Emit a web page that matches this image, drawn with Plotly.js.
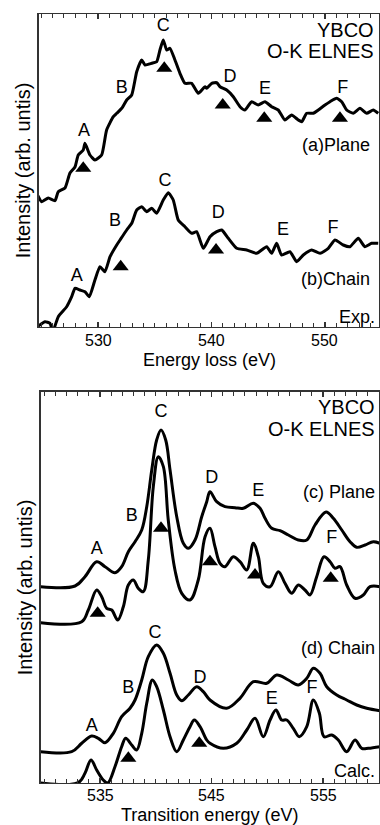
<!DOCTYPE html>
<html>
<head>
<meta charset="utf-8">
<script src="https://cdn.plot.ly/plotly-3.0.1.min.js"></script>
<style>html,body{margin:0;padding:0;background:#fff;}#chart{width:380px;height:825px;}</style>
</head>
<body>
<div id="chart"></div>
<script>
// ---------- Experimental spectra (top panel) ----------
const expEnergyPlane = [524.7,525.04,525.62,526.21,526.5,527.09,527.53,527.97,528.26,528.7,528.85,529.29,529.73,530.32,530.76,531.35,531.65,532.09,532.53,532.97,533.41,533.85,534.14,534.73,535.17,535.46,535.75,536.05,536.34,536.78,537.22,537.66,538.25,538.84,539.43,539.58,540.02,540.46,540.75,541.34,541.92,542.51,542.95,543.54,544.12,544.71,545.3,545.88,546.47,547.06,547.65,547.95,548.39,548.97,549.41,550.0,550.44,551.03,551.47,551.91,552.49,553.08,553.67,554.25,554.69];
const expPlane = [131.3,125.3,129,126.3,135.3,139,154,160,172,177,183.7,172,167,172,197,210.3,213.7,218.7,227,232,255.3,267,262,263.7,265.3,277,287,277,278.7,267,253.7,243.7,243.7,233.7,240.3,238.7,243.7,244.3,240.3,237,230.3,220.3,217,225.3,222,225.3,220.3,217,207,212,207,205.3,213.7,213.7,217,222,225.3,228.7,225.3,217,213.7,218.7,213.7,217,213.7];

const expEnergyChain = [524.74,525.33,525.77,526.01,526.5,527.24,527.68,527.97,528.41,528.85,529.23,529.73,530.17,530.61,531.06,531.65,531.94,532.53,532.97,533.41,533.85,534.29,534.73,535.17,535.75,536.19,536.63,537.07,537.66,538.25,538.69,539.28,539.87,540.46,540.9,541.48,542.22,543.1,543.98,544.86,545.3,545.74,546.18,546.91,547.5,548.09,548.83,549.56,550.29,550.88,551.61,552.2,552.93,553.52,554.11,554.69];
const expChain = [1,5.3,3.7,-4.7,10.3,20.3,30.3,38.7,37,35.3,30.3,47,60.3,55.3,70.3,82,87,97,103.7,117,120.3,115.3,118.7,113.7,127,134.3,127,107,100.3,93.7,95.3,78.7,90.3,95.3,97,88.7,78.7,77,73.7,80.3,73.7,83.7,72,75.3,65.3,72,77,73.7,78.7,87,82,80.3,88.7,80.3,83.7,83.7];

// ---------- Calculated spectra (bottom panel) ----------
const calcEnergyPlaneBroad = [529.68,532.76,533.65,534.7,535.45,536.34,536.94,537.54,538.14,538.74,539.19,539.64,540.08,540.47,540.89,541.28,541.88,542.47,542.92,543.52,544.12,544.57,544.86,545.46,546.21,547.11,547.85,548.75,549.35,549.8,550.4,551.14,551.89,552.78,553.54,554.28,555.27,555.92,556.68,557.42,558.02,558.77,559.51,560.11];
const calcPlaneBroad = [196.3,197,206.3,221.3,216.3,210.3,216.3,231.3,241.3,253,276.3,313,343,353,343,313,266.3,239.7,234.7,243,266.3,281.3,291.3,281.3,276.3,275.3,274.7,279.7,274.7,264.7,254.7,252.3,248,243,243,258,271,264.7,253,241.3,235.7,238,241.3,239.7];

const calcEnergyPlaneSharp = [529.68,533.36,533.95,534.7,535.15,535.6,536.05,536.59,537.09,537.54,537.99,538.43,538.88,539.33,539.78,540.23,540.68,541.12,541.72,542.33,543.07,543.81,544.42,544.86,545.31,545.76,546.21,546.95,547.55,548.16,548.75,549.2,549.64,550.25,550.99,551.59,552.19,552.78,553.38,553.83,554.43,555.09,555.63,556.07,556.52,557.12,557.87,558.61,559.21,560.11];
const calcPlaneSharp = [160.3,161.3,173,193,186.3,174.7,173,163,176.3,198,203,194.7,191.3,223,296.3,326.3,316.3,263,213,189.7,183,203,246.3,254.7,236.3,219.7,216.3,226.3,221.3,213,239.7,226.3,199.7,196.3,211.3,199.7,189.7,198,193,188,206.3,226.3,221.3,214.7,216.3,198,184.7,188,196.3,196.3];

const calcEnergyChainBroad = [529.68,532.46,533.36,534.25,534.85,535.45,536.19,536.94,537.69,538.14,538.74,539.33,540.08,540.68,541.28,541.88,542.33,542.92,543.67,544.26,544.86,546.36,547.55,548.75,549.95,550.85,551.89,552.78,553.54,554.13,554.73,555.33,556.23,557.12,558.02,558.92,560.11];
const calcChainBroad = [31.3,31.3,39.7,47,44.7,40.3,49.7,66.3,74.7,83,103,126.3,138,129.7,109.7,88,82.3,88,96.3,91.3,83,74.7,84.7,101.3,99.7,108,103,98,104.7,114.7,109.7,96.3,88,83,78,74.7,72.3];

const calcEnergyChainSharp = [529.68,533.05,533.65,534.19,534.7,535.29,535.69,536.34,536.94,537.3,537.84,538.29,538.74,539.19,539.69,540.08,540.68,541.28,541.88,542.47,543.07,543.46,543.97,544.57,544.86,546.06,547.26,548.16,548.9,549.64,550.25,550.78,551.29,551.74,552.33,552.87,553.54,554.13,554.67,555.09,555.78,556.37,557.12,557.87,558.47,559.06,560.11];
const calcChainSharp = [0,0.3,9.7,23,13,3,0,16.3,36.3,44.7,38,33,49.7,79.7,103,96.3,73,46.3,31.3,43,56.3,63,56.3,43,39.7,34.7,39.7,53,64.7,46.3,63,73,63,63,54.7,46.3,56.3,83,69.7,46.3,48,43,31.3,43,34.7,34.7,36.3];

// ---------- Peak labels and markers ----------
const peakLetters = ['A','B','C','D','E','F'];
const expPlaneLabelE = [528.76,532.09,535.75,541.63,544.71,551.56];
const expPlaneLabelY = [195.3,238.7,300.3,249.7,237.7,238.7];
const expPlaneArrowE = [528.7,535.84,540.99,544.65,551.32];
const expPlaneArrowY = [158.7,258.7,222,208.7,208.7];
const expChainLabelE = [528.12,531.5,535.9,540.6,546.3,550.7];
const expChainLabelY = [50.3,105.3,145.3,113.7,97,98.7];
const expChainArrowE = [532.0,540.4];
const expChainArrowY = [60.3,77];

const calcPlaneLabelE = [534.7,537.84,540.47,545.02,549.2,555.78];
const calcPlaneLabelY = [233,266.3,370,304.7,291.3,244.7];
const calcPlaneArrowE = [534.79,540.47,544.86,548.9,555.69];
const calcPlaneArrowY = [169.7,254.7,221.3,208,204.7];
const calcChainLabelE = [534.25,537.54,539.93,543.97,550.4,554.0];
const calcChainLabelY = [56.3,94.7,149.7,104.7,83,94.7];
const calcChainArrowE = [537.54,543.9];
const calcChainArrowY = [24.7,39.7];

// ---------- Tick values ----------
const expTicks = [530,540,550];
const calcTicks = [535,545,555];

const FONT = 'Liberation Sans, Arial, Helvetica, sans-serif';
const lineStyle = {color:'#000', width:3};

function curve(x, y, xa, ya, smooth){
  return {type:'scatter', mode:'lines', x:x, y:y, xaxis:xa, yaxis:ya,
    line:Object.assign({shape:'spline', smoothing:smooth}, lineStyle), hoverinfo:'skip'};
}
function letters(x, y, xa, ya){
  return {type:'scatter', mode:'text', x:x, y:y, text:peakLetters.slice(0,x.length), xaxis:xa, yaxis:ya,
    textfont:{family:FONT, size:18, color:'#000'}, textposition:'middle center', hoverinfo:'skip', cliponaxis:false};
}
function arrows(x, y, xa, ya){
  return {type:'scatter', mode:'markers', x:x, y:y, xaxis:xa, yaxis:ya,
    marker:{symbol:'triangle-up', size:14, color:'#000', line:{width:0}}, hoverinfo:'skip'};
}

const data = [
  curve(expEnergyPlane, expPlane, 'x', 'y', 0.5),
  curve(expEnergyChain, expChain, 'x', 'y', 0.5),
  curve(calcEnergyPlaneBroad, calcPlaneBroad, 'x2', 'y2', 1),
  curve(calcEnergyPlaneSharp, calcPlaneSharp, 'x2', 'y2', 1),
  curve(calcEnergyChainBroad, calcChainBroad, 'x2', 'y2', 1),
  curve(calcEnergyChainSharp, calcChainSharp, 'x2', 'y2', 1),
  letters(expPlaneLabelE, expPlaneLabelY, 'x', 'y'),
  letters(expChainLabelE, expChainLabelY, 'x', 'y'),
  letters(calcPlaneLabelE, calcPlaneLabelY, 'x2', 'y2'),
  letters(calcChainLabelE, calcChainLabelY, 'x2', 'y2'),
  arrows(expPlaneArrowE, expPlaneArrowY, 'x', 'y'),
  arrows(expChainArrowE, expChainArrowY, 'x', 'y'),
  arrows(calcPlaneArrowE, calcPlaneArrowY, 'x2', 'y2'),
  arrows(calcChainArrowE, calcChainArrowY, 'x2', 'y2')
];

function xAxis(domain, range, ticks, anchor){
  return {domain:domain, anchor:anchor, range:range, tickmode:'array', tickvals:ticks, showticklabels:false,
    ticks:'inside', ticklen:5, tickwidth:1.3, tickcolor:'#333', mirror:'ticks', showline:true, linewidth:1.5, linecolor:'#333',
    minor:{dtick:1, ticks:'inside', ticklen:4, tickwidth:1, tickcolor:'#333'},
    showgrid:false, zeroline:false};
}
function yAxis(domain, range, anchor){
  return {domain:domain, anchor:anchor, range:range, showticklabels:false, ticks:'', showline:true, mirror:true,
    linewidth:1.5, linecolor:'#333', showgrid:false, zeroline:false,
    title:{text:'Intensity (arb. untis)', font:{family:FONT, size:20, color:'#000'}, standoff:1}};
}

function sideText(text, x, y, xr, yr, size){
  return {text:text, x:x, y:y, xref:xr, yref:yr, xanchor:'right', yanchor:'middle', showarrow:false,
    font:{family:FONT, size:size, color:'#000'}};
}
function paperText(text, x, xr, ypx, size){
  return {text:text, x:x, y:1 - ypx/825, xref:xr, yref:'paper', xanchor:'center', yanchor:'middle',
    showarrow:false, borderpad:0, font:{family:FONT, size:size, color:'#000'}};
}

const tickLabelAnns = expTicks.map(v => paperText(String(v), v, 'x', 340.5, 16))
  .concat(calcTicks.map(v => paperText(String(v), v, 'x2', 795.5, 16)));

const layout = {
  width:380, height:825, margin:{l:0, r:0, t:0, b:0}, showlegend:false,
  paper_bgcolor:'#fff', plot_bgcolor:'#fff', font:{family:FONT, color:'#000'},
  xaxis: xAxis([0.1026,0.9974], [524.8,554.76], expTicks, 'y'),
  yaxis: yAxis([0.60364,0.98303], [0,313], 'x'),
  xaxis2: xAxis([0.1071,0.9974], [529.68,560.02], calcTicks, 'y2'),
  yaxis2: yAxis([0.05091,0.52485], [0,391], 'x2'),
  annotations: tickLabelAnns.concat([
    paperText('Energy loss (eV)', 0.55, 'paper', 360, 18),
    paperText('Transition energy (eV)', 0.552, 'paper', 814.5, 18),
    sideText('YBCO', 554.5, 297, 'x', 'y', 20),
    sideText('O-K ELNES', 554.5, 276, 'x', 'y', 20),
    sideText('(a)Plane', 554.1, 182, 'x', 'y', 18),
    sideText('(b)Chain', 554.1, 48, 'x', 'y', 18),
    sideText('Exp.', 554.6, 10.5, 'x', 'y', 18),
    sideText('YBCO', 559.8, 376, 'x2', 'y2', 20),
    sideText('O-K ELNES', 559.8, 354, 'x2', 'y2', 20),
    sideText('(c) Plane', 559.8, 291, 'x2', 'y2', 18),
    sideText('(d) Chain', 559.8, 135, 'x2', 'y2', 18),
    sideText('Calc.', 559.8, 11.5, 'x2', 'y2', 18)
  ])
};

Plotly.newPlot('chart', data, layout, {staticPlot:true, displayModeBar:false});
</script>
</body>
</html>
